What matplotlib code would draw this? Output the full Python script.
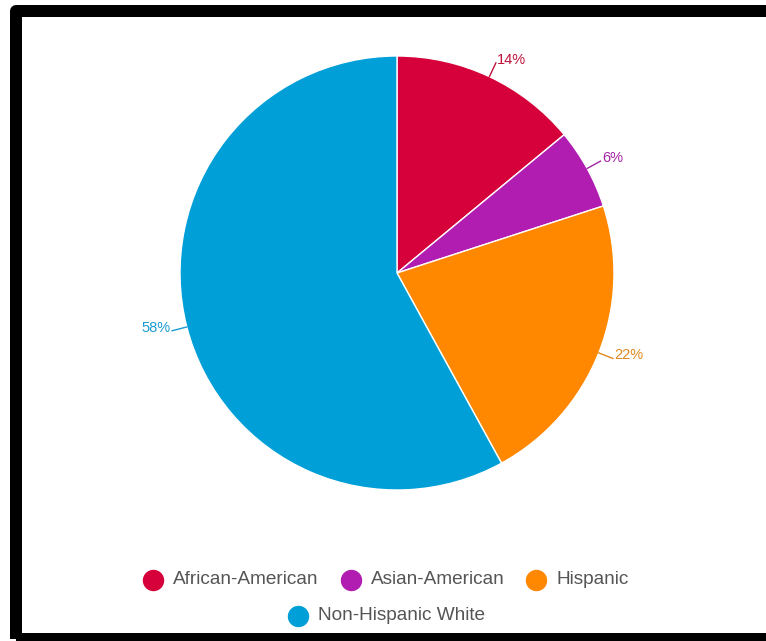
import matplotlib.pyplot as plt
from matplotlib.lines import Line2D
from matplotlib.patches import Rectangle
import numpy as np

plt.rcParams['font.family'] = ['Liberation Sans', 'DejaVu Sans']

groups = ['African-American', 'Asian-American', 'Hispanic', 'Non-Hispanic White']
shares = [14, 6, 22, 58]
colors = ['#d6003a', '#b01db0', '#ff8800', '#009fd8']
label_colors = ['#c0143c', '#a324a3', '#e08a1e', '#1a9ad0']

W, H = 766, 641
fig = plt.figure(figsize=(W / 100, H / 100), dpi=100)

# thick black frame, right edge runs off the canvas
frame = Rectangle((0.16, 0.02), 7.56, 6.28, transform=fig.dpi_scale_trans,
                  fill=False, edgecolor='black', linewidth=8.64, joinstyle='round')
fig.add_artist(frame)

# pie: centre (397, 273) px from top-left, radius 217 px
cx, cy, R = 397, 273, 217
xl, yl = 1.3, 1.15
ax = fig.add_axes([(cx - xl * R) / W, (H - cy - yl * R) / H, 2 * xl * R / W, 2 * yl * R / H])
wedges, _ = ax.pie(shares, colors=colors, startangle=90, counterclock=False,
                   wedgeprops=dict(edgecolor='white', linewidth=1))
ax.set_xlim(-xl, xl)
ax.set_ylim(-yl, yl)
ax.set_aspect('auto')
ax.axis('off')

# percentage labels with short leader lines
for w, s, c in zip(wedges, shares, label_colors):
    t = np.deg2rad((w.theta1 + w.theta2) / 2)
    ux, uy = np.cos(t), np.sin(t)
    ex, ey = 1.07 * ux, 1.07 * uy
    ax.plot([ux, ex], [uy, ey], color=c, lw=1, clip_on=False)
    side = 1 if ux > 0 else -1
    ax.text(ex + side * 0.006, ey + 0.014, f'{s}%', color=c, fontsize=10.5,
            ha='left' if side > 0 else 'right', va='center', clip_on=False)

# legend, rows centred under the pie
renderer = fig.canvas.get_renderer()
rows = [[0, 1, 2], [3]]
row_y = [580, 616]
for row, ypx in zip(rows, row_y):
    yf = 1 - ypx / H
    texts = [fig.text(0, yf, groups[i], fontsize=13.7, color='#555555', va='center', ha='left')
             for i in row]
    widths = [t.get_window_extent(renderer).width for t in texts]
    total = sum(30 + w for w in widths) + 22 * (len(row) - 1)
    x = 386 - total / 2
    for i, t, w in zip(row, texts, widths):
        fig.add_artist(Line2D([(x + 10) / W], [yf], marker='o', markersize=14.4, color=colors[i],
                              linestyle='none', transform=fig.transFigure))
        t.set_x((x + 30) / W)
        x += 30 + w + 22

fig.savefig('out.png', dpi=100, facecolor='white')
